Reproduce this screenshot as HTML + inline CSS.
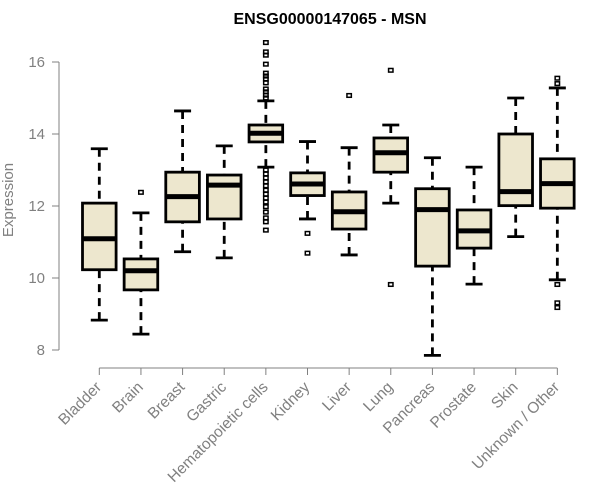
<!DOCTYPE html>
<html><head><meta charset="utf-8"><style>
body{margin:0;background:#fff}
svg{display:block;font-family:"Liberation Sans",Arial,sans-serif}
</style></head><body>
<svg id="chart" width="600" height="500" viewBox="0 0 600 500" xmlns="http://www.w3.org/2000/svg">
<text x="330" y="24" text-anchor="middle" font-size="16" font-weight="bold" fill="#000">ENSG00000147065 - MSN</text>
<text transform="translate(13,200) rotate(-90)" text-anchor="middle" font-size="15" fill="#808080">Expression</text>
<g id="axes"></g>
<g id="boxes"></g>
</svg>
<script>
const categories=["Bladder","Brain","Breast","Gastric","Hematopoietic cells","Kidney","Liver","Lung","Pancreas","Prostate","Skin","Unknown / Other"];
const whiskerLow=[8.83,8.44,10.73,10.56,13.08,11.64,10.64,12.08,7.85,9.83,11.15,9.95];
const q1=[10.23,9.67,11.56,11.64,13.78,12.29,11.36,12.94,10.33,10.83,12.01,11.94];
const medians=[11.09,10.20,12.26,12.58,14.02,12.61,11.84,13.48,11.9,11.31,12.4,12.62];
const q3=[12.08,10.53,12.94,12.86,14.25,12.92,12.39,13.89,12.48,11.89,14.0,13.31];
const whiskerHigh=[13.59,11.81,14.64,13.67,14.92,13.79,13.62,14.25,13.34,13.08,15.0,15.28];
const outliers=[[],[12.38],[],[],[16.54,16.28,16.19,15.94,15.69,15.61,15.53,15.42,15.25,15.17,15.08,15.0,13.0,12.89,12.78,12.67,12.56,12.44,12.33,12.22,12.11,11.98,11.83,11.67,11.56,11.33],[11.24,10.69],[15.07],[15.77,9.82],[],[],[],[15.55,15.4,9.82,9.31,9.18]];
const yTicks=[8,10,12,14,16];

const NS="http://www.w3.org/2000/svg";
const y=v=>62+(16-v)*36;
const x=i=>99.3+i*41.64;
const hw=16.8;
function mk(tag,attrs,parent){const e=document.createElementNS(NS,tag);for(const k in attrs)e.setAttribute(k,attrs[k]);parent.appendChild(e);return e;}
const axes=document.getElementById('axes');
const boxes=document.getElementById('boxes');
const gray="#808080";
let yl=mk('line',{x1:59,x2:59,y1:y(16),y2:y(8),stroke:gray,'stroke-width':1},axes);


yTicks.forEach(t=>{
  let l=mk('line',{x1:52,x2:59,y1:y(t),y2:y(t),stroke:gray},axes);
  
  
  let tx=mk('text',{x:45,y:y(t)+5,'text-anchor':'end','font-size':15,fill:gray},axes);
  tx.textContent=t;
  
  
});
let xl=mk('line',{x1:x(0),x2:x(11),y1:368,y2:368,stroke:gray},axes);


categories.forEach((c,i)=>{
  let l=mk('line',{x1:x(i),x2:x(i),y1:368,y2:375,stroke:gray},axes);
  
  
  let tx=mk('text',{transform:`translate(${x(i)+3},388) rotate(-45)`,'text-anchor':'end','font-size':15.5,fill:gray},axes);
  tx.textContent=c;
  
  
});
categories.forEach((c,i)=>{
  const g=mk('g',{},boxes);
  
  
  const cx=x(i);
  mk('line',{x1:cx,x2:cx,y1:y(whiskerHigh[i]),y2:y(q3[i]),stroke:'#000','stroke-width':2.8,'stroke-dasharray':'8,6'},g);
  mk('line',{x1:cx,x2:cx,y1:y(whiskerLow[i]),y2:y(q1[i]),stroke:'#000','stroke-width':2.8,'stroke-dasharray':'8,6'},g);
  mk('line',{x1:cx-8.5,x2:cx+8.5,y1:y(whiskerHigh[i]),y2:y(whiskerHigh[i]),stroke:'#000','stroke-width':2.8},g);
  mk('line',{x1:cx-8.5,x2:cx+8.5,y1:y(whiskerLow[i]),y2:y(whiskerLow[i]),stroke:'#000','stroke-width':2.8},g);
  mk('rect',{x:cx-hw,y:y(q3[i]),width:hw*2,height:y(q1[i])-y(q3[i]),fill:'#ede7ce',stroke:'#000','stroke-width':2.8},g);
  mk('line',{x1:cx-hw,x2:cx+hw,y1:y(medians[i]),y2:y(medians[i]),stroke:'#000','stroke-width':5},g);
  outliers[i].forEach(o=>{
    const p=mk('rect',{x:cx-2.2,y:y(o)-1.8,width:4.4,height:3.6,fill:'none',stroke:'#000','stroke-width':1.5},g);
    
    
  });
});
</script>
</body></html>
